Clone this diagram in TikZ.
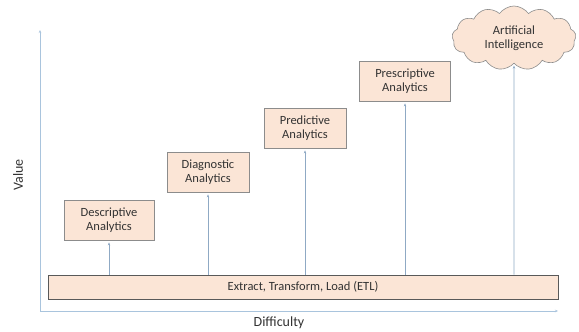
\documentclass[tikz,border=0pt]{standalone}
\usepackage{fontspec}
\setmainfont{Carlito}
\usetikzlibrary{shapes.symbols,arrows.meta}
\definecolor{peach}{HTML}{FBE5D6}
\definecolor{boxline}{HTML}{8C8C8C}
\definecolor{axisblue}{HTML}{A9C4DD}
\definecolor{arrblue}{HTML}{8FA9C4}
\definecolor{txt}{HTML}{333333}
\tikzset{
  stagebox/.style={draw=boxline, line width=0.8pt, fill=peach, text=txt, align=center,
    font=\fontsize{12.5}{14.5}\selectfont, minimum height=40pt, inner sep=2pt},
  etlbox/.style={draw=black!65, line width=1pt, fill=peach, text=txt,
    font=\fontsize{12.5}{14.5}\selectfont, minimum width=510pt, minimum height=24pt},
  aicloud/.style={cloud, cloud puffs=13, cloud puff arc=110, aspect=2, draw=boxline, line width=0.6pt,
    fill=peach, text=txt, align=center, font=\fontsize{12.5}{14.5}\selectfont,
    minimum width=124pt, minimum height=64pt, inner sep=0pt},
  upline/.style={arrblue, line width=0.7pt, -{Stealth[length=3pt,width=2.5pt]}, shorten >=2pt},
  axisline/.style={axisblue, line width=0.9pt, -{Stealth[length=3pt,width=2.5pt]}},
  axislabel/.style={text=txt, font=\fontsize{14}{16}\selectfont}
}
\begin{document}
\begin{tikzpicture}[x=1pt,y=-1pt]
\useasboundingbox (0,0) rectangle (579,332);
\coordinate (o) at (40,311);
\coordinate (ytop) at (40,30);
\coordinate (xend) at (558,311);
\draw[axisline] (o) -- (ytop);
\draw[axisline] (o) -- (xend);
\node[axislabel, rotate=90] (val) at (18,175) {Value};
\node[axislabel] (dif) at (279,323) {Difficulty};

\node[etlbox] (etl) at (303,287) {Extract, Transform, Load (ETL)};

\node[stagebox, minimum width=90pt] (desc) at (109,220) {Descriptive\\Analytics};
\node[stagebox, minimum width=82pt] (diag) at (208,172) {Diagnostic\\Analytics};
\node[stagebox, minimum width=82pt] (pred) at (305,128) {Predictive\\Analytics};
\node[stagebox, minimum width=91pt] (pres) at (405,81) {Prescriptive\\Analytics};
\node[aicloud] (ai) at (514,38) {Artificial\\Intelligence};

\draw[upline] (etl.north -| desc) -- (desc.south);
\draw[upline] (etl.north -| diag) -- (diag.south);
\draw[upline] (etl.north -| pred) -- (pred.south);
\draw[upline] (etl.north -| pres) -- (pres.south);
\draw[upline] (etl.north -| ai) -- (ai.south);
\end{tikzpicture}
\end{document}
